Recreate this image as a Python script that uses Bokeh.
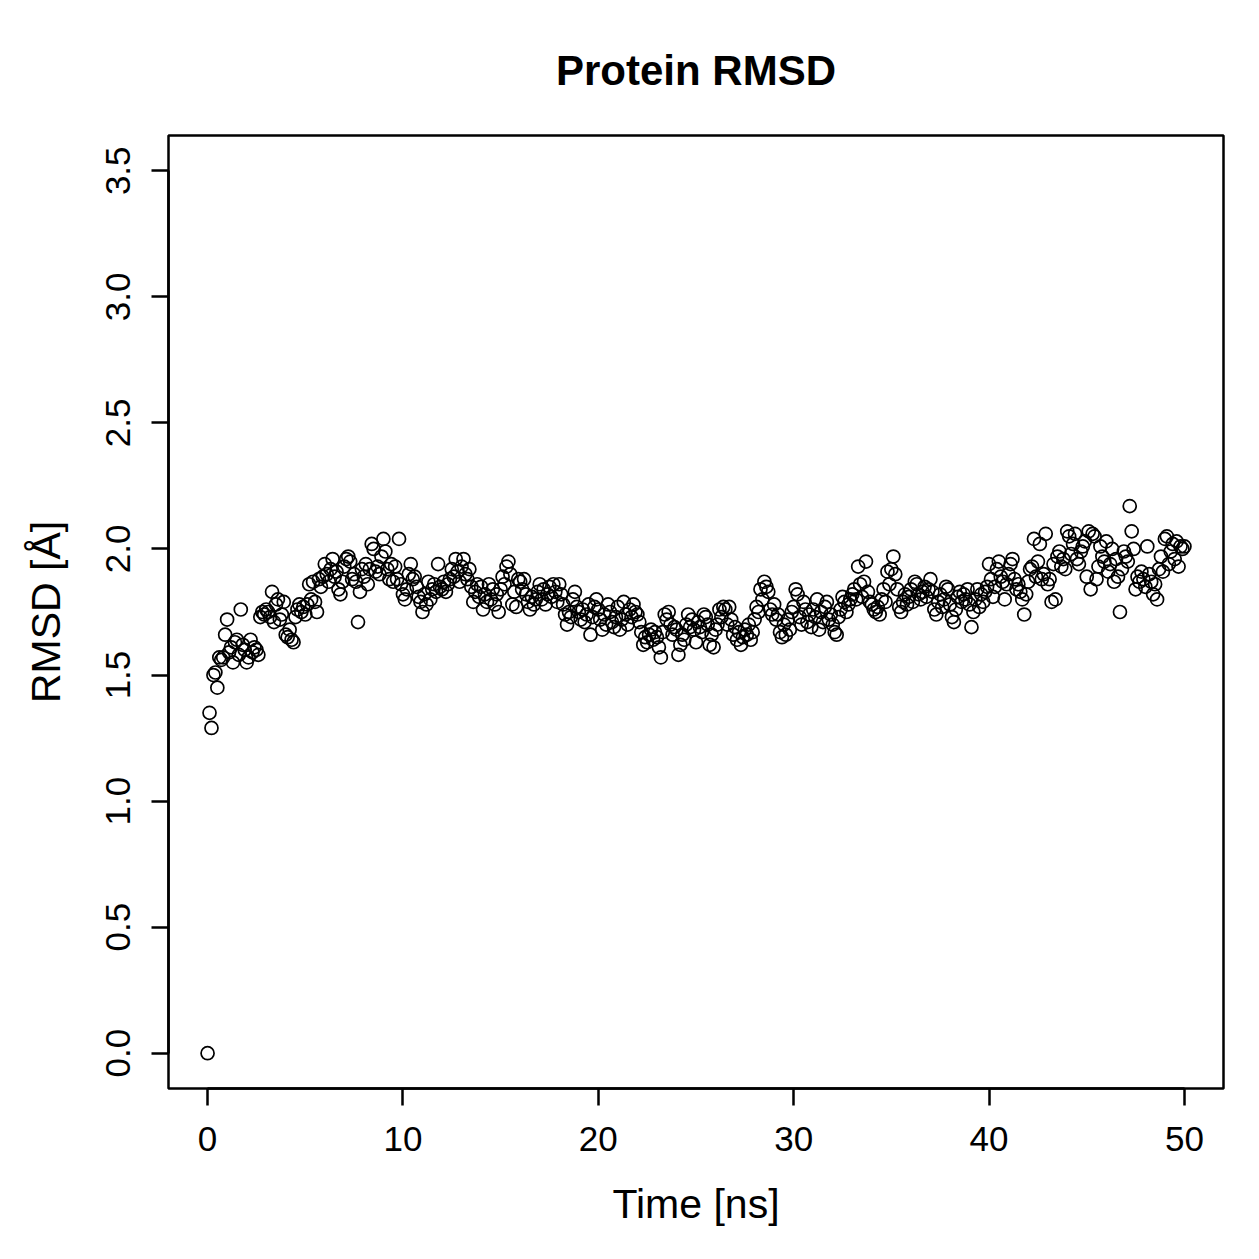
from bokeh.plotting import figure
from bokeh.models import FixedTicker, PrintfTickFormatter, Range1d
from bokeh.embed import file_html
from bokeh.resources import INLINE

rmsd = [
    0.00, 1.35, 1.29, 1.50, 1.51, 1.45, 1.57, 1.56, 1.57, 1.66,
    1.72, 1.59, 1.61, 1.55, 1.63, 1.64, 1.58, 1.76, 1.62, 1.60,
    1.55, 1.57, 1.64, 1.59, 1.61, 1.60, 1.58, 1.73, 1.75, 1.74,
    1.76, 1.75, 1.73, 1.83, 1.71, 1.78, 1.80, 1.72, 1.74, 1.79,
    1.66, 1.65, 1.68, 1.64, 1.63, 1.73, 1.76, 1.78, 1.75, 1.77,
    1.74, 1.78, 1.86, 1.80, 1.87, 1.79, 1.75, 1.88, 1.85, 1.89,
    1.94, 1.90, 1.87, 1.92, 1.96, 1.89, 1.91, 1.84, 1.82, 1.87,
    1.93, 1.96, 1.97, 1.95, 1.88, 1.90, 1.87, 1.71, 1.83, 1.92,
    1.89, 1.94, 1.86, 1.92, 2.02, 2.00, 1.91, 1.93, 1.90, 1.97,
    2.04, 1.99, 1.92, 1.88, 1.94, 1.87, 1.93, 1.88, 2.04, 1.86,
    1.82, 1.80, 1.84, 1.90, 1.94, 1.88, 1.89, 1.85, 1.81, 1.79,
    1.75, 1.82, 1.78, 1.87, 1.80, 1.84, 1.86, 1.83, 1.94, 1.85,
    1.84, 1.87, 1.83, 1.86, 1.88, 1.92, 1.89, 1.96, 1.91, 1.87,
    1.93, 1.96, 1.90, 1.88, 1.92, 1.85, 1.79, 1.83, 1.86, 1.81,
    1.85, 1.76, 1.82, 1.79, 1.86, 1.80, 1.84, 1.78, 1.82, 1.75,
    1.84, 1.89, 1.86, 1.93, 1.95, 1.90, 1.78, 1.83, 1.77, 1.88,
    1.87, 1.84, 1.88, 1.82, 1.79, 1.76, 1.81, 1.78, 1.80, 1.83,
    1.86, 1.80, 1.84, 1.78, 1.82, 1.85, 1.81, 1.86, 1.83, 1.79,
    1.86, 1.82, 1.78, 1.74, 1.70, 1.75, 1.73, 1.80, 1.83, 1.77,
    1.75, 1.72, 1.76, 1.71, 1.74, 1.78, 1.66, 1.73, 1.77, 1.80,
    1.76, 1.72, 1.68, 1.74, 1.70, 1.78, 1.75, 1.71, 1.69, 1.73,
    1.77, 1.68, 1.72, 1.79, 1.74, 1.70, 1.76, 1.73, 1.78, 1.75,
    1.74, 1.71, 1.67, 1.62, 1.65, 1.63, 1.66, 1.68, 1.64, 1.67,
    1.65, 1.61, 1.57, 1.67, 1.74, 1.72, 1.75, 1.70, 1.66, 1.69,
    1.68, 1.58, 1.62, 1.66, 1.64, 1.70, 1.74, 1.69, 1.72, 1.68,
    1.63, 1.71, 1.69, 1.67, 1.74, 1.73, 1.70, 1.62, 1.66, 1.61,
    1.68, 1.70, 1.76, 1.73, 1.77, 1.76, 1.70, 1.77, 1.72, 1.66,
    1.69, 1.64, 1.67, 1.62, 1.65, 1.68, 1.66, 1.70, 1.64, 1.67,
    1.72, 1.77, 1.75, 1.84, 1.80, 1.87, 1.85, 1.83, 1.76, 1.74,
    1.78, 1.72, 1.74, 1.67, 1.65, 1.70, 1.66, 1.72, 1.68, 1.75,
    1.77, 1.84, 1.82, 1.73, 1.70, 1.79, 1.76, 1.71, 1.74, 1.69,
    1.76, 1.73, 1.80, 1.68, 1.75, 1.71, 1.77, 1.79, 1.72, 1.74,
    1.70, 1.67, 1.66, 1.73, 1.76, 1.81, 1.79, 1.75, 1.78, 1.80,
    1.82, 1.84, 1.80, 1.93, 1.86, 1.81, 1.87, 1.95, 1.83, 1.79,
    1.78, 1.76, 1.75, 1.77, 1.74, 1.80, 1.84, 1.79, 1.91, 1.86,
    1.92, 1.97, 1.90, 1.84, 1.77, 1.75, 1.79, 1.82, 1.78, 1.81,
    1.84, 1.79, 1.87, 1.86, 1.82, 1.80, 1.83, 1.85, 1.81, 1.84,
    1.88, 1.83, 1.76, 1.74, 1.79, 1.82, 1.77, 1.80, 1.85, 1.84,
    1.78, 1.73, 1.71, 1.76, 1.81, 1.83, 1.79, 1.82, 1.80, 1.84,
    1.78, 1.69, 1.75, 1.80, 1.84, 1.77, 1.82, 1.79, 1.83, 1.85,
    1.94, 1.88, 1.81, 1.85, 1.92, 1.95, 1.89, 1.87, 1.80, 1.86,
    1.90, 1.94, 1.96, 1.88, 1.84, 1.86, 1.83, 1.80, 1.74, 1.82,
    1.87, 1.92, 1.93, 2.04, 1.89, 1.95, 2.02, 1.88, 1.90, 2.06,
    1.86, 1.88, 1.79, 1.94, 1.80, 1.97, 1.99, 1.93, 1.96, 1.92,
    2.07, 2.05, 1.98, 2.02, 2.06, 1.96, 1.94, 1.99, 2.01, 2.03,
    1.89, 2.07, 1.84, 2.06, 2.05, 1.88, 1.93, 2.01, 1.97, 1.95,
    2.03, 1.91, 1.94, 2.00, 1.87, 1.96, 1.89, 1.75, 1.92, 1.99,
    1.97, 1.95, 2.17, 2.07, 2.00, 1.84, 1.89, 1.87, 1.91, 1.88,
    1.85, 2.01, 1.90, 1.87, 1.82, 1.86, 1.80, 1.92, 1.97, 1.91,
    2.04, 2.05, 1.94, 1.99, 2.02, 1.96, 2.03, 1.93, 2.01, 2.00,
    2.01,
]
time_ns = [i / 10 for i in range(len(rmsd))]

x_ticks = [0, 10, 20, 30, 40, 50]
y_ticks = [0.0, 0.5, 1.0, 1.5, 2.0, 2.5, 3.0, 3.5]

FONT = "Liberation Sans"

p = figure(width=1259, height=1259, output_backend="svg", toolbar_location=None,
           x_range=Range1d(-2, 52), y_range=Range1d(-0.14, 3.64),
           min_border_left=168, min_border_right=36, min_border_top=135,
           min_border_bottom=171, title="Protein RMSD")

p.scatter(time_ns, rmsd, marker="circle", size=13, fill_color=None,
          line_color="black", line_width=1.7)

p.grid.visible = False
p.outline_line_color = "black"
p.outline_line_width = 2.5
p.background_fill_color = "white"
p.border_fill_color = "white"

p.title.text_font = FONT
p.title.text_font_size = "42px"
p.title.text_font_style = "bold"
p.title.text_color = "black"
p.title.align = "center"
p.title.standoff = 84

for ax in (p.xaxis[0], p.yaxis[0]):
    ax.axis_line_color = "black"
    ax.axis_line_width = 2.5
    ax.major_tick_line_width = 2.5
    ax.major_tick_out = 17
    ax.major_tick_in = 0
    ax.minor_tick_out = 0
    ax.minor_tick_in = 0
    ax.major_label_text_font = FONT
    ax.major_label_text_font_size = "35px"
    ax.major_label_text_color = "black"
    ax.axis_label_text_font = FONT
    ax.axis_label_text_font_size = "41px"
    ax.axis_label_text_font_style = "normal"
    ax.axis_label_text_color = "black"

p.xaxis[0].ticker = FixedTicker(ticks=x_ticks)
p.xaxis[0].bounds = (0, 50)
p.xaxis[0].axis_label = "Time [ns]"
p.xaxis[0].major_label_standoff = 21
p.xaxis[0].axis_label_standoff = 27

p.yaxis[0].ticker = FixedTicker(ticks=y_ticks)
p.yaxis[0].bounds = (0, 3.5)
p.yaxis[0].formatter = PrintfTickFormatter(format="%.1f")
p.yaxis[0].major_label_orientation = "vertical"
p.yaxis[0].axis_label = "RMSD [Å]"
p.yaxis[0].major_label_standoff = 21
p.yaxis[0].axis_label_standoff = 35

open("out.html", "w").write(file_html(p, INLINE))
